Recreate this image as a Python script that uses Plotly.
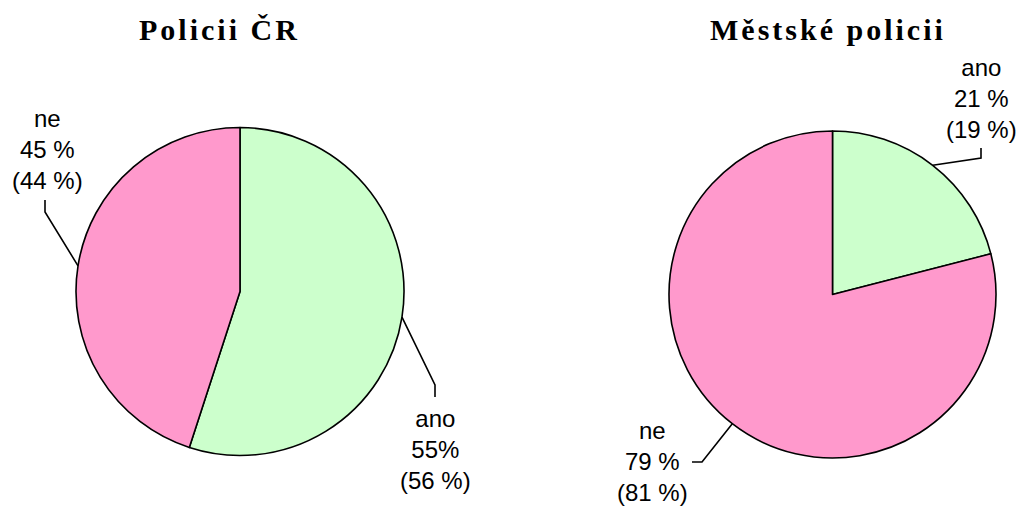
import math
import plotly.graph_objects as go

W, H = 1021, 506

# ---- data ----
categories = ["ano", "ne"]
titles = ["Policii ČR", "Městské policii"]
cr_values = [55, 45]
cr_prev = [56, 44]
mp_values = [21, 79]
mp_prev = [19, 81]
colors = ["#CCFFCC", "#FF99CC"]

# ---- layout (pixel positions) ----
pies = [
    dict(title=titles[0], values=cr_values, prev=cr_prev, cx=240, cy=291.5, r=164,
         tx=219, ty=29, seps=["", " "],
         # per slice: label centre, elbow, end of leader
         lab=[dict(lx=435, ly=449, ex=435, ey=385, fx=435, fy=397),
              dict(lx=47, ly=149, ex=45, ey=212, fx=45, fy=200)]),
    dict(title=titles[1], values=mp_values, prev=mp_prev, cx=832.5, cy=294.5, r=163.5,
         tx=828, ty=29, seps=[" ", " "],
         lab=[dict(lx=981, ly=98, ex=981, ey=158, fx=981, fy=148),
              dict(lx=652, ly=461, ex=702, ey=462, fx=692, fy=462)]),
]


def px(x):
    return x / W


def py(y):
    return 1 - y / H


fig = go.Figure()
annotations = []
shapes = []

for p in pies:
    fig.add_trace(go.Pie(
        labels=categories, values=p["values"], sort=False, direction="clockwise",
        rotation=0, textinfo="none", hoverinfo="label+percent",
        marker=dict(colors=colors, line=dict(color="black", width=1.6)),
        domain=dict(x=[px(p["cx"] - p["r"]), px(p["cx"] + p["r"])],
                    y=[py(p["cy"] + p["r"]), py(p["cy"] - p["r"])]),
        showlegend=False,
    ))
    annotations.append(dict(
        text="<b><span style='letter-spacing:3px'>" + p["title"] + "</span></b>",
        x=px(p["tx"]), y=py(p["ty"]), xref="paper", yref="paper",
        xanchor="center", yanchor="middle", showarrow=False,
        font=dict(family="Liberation Serif", size=30, color="black"),
    ))
    total = sum(p["values"])
    cum = 0
    for i, v in enumerate(p["values"]):
        mid = (cum + v / 2) / total * 2 * math.pi
        cum += v
        sx = p["cx"] + p["r"] * math.sin(mid)
        sy = p["cy"] - p["r"] * math.cos(mid)
        L = p["lab"][i]
        shapes.append(dict(
            type="path", xref="paper", yref="paper",
            path=f"M {px(sx)} {py(sy)} L {px(L['ex'])} {py(L['ey'])} L {px(L['fx'])} {py(L['fy'])}",
            line=dict(color="black", width=1.6),
        ))
        txt = f"{categories[i]}<br>{v}{p['seps'][i]}%<br>({p['prev'][i]} %)"
        annotations.append(dict(
            text=txt, x=px(L["lx"]), y=py(L["ly"]), xref="paper", yref="paper",
            xanchor="center", yanchor="middle", showarrow=False, borderpad=0,
            font=dict(family="Liberation Sans", size=24, color="black"),
        ))

fig.update_layout(
    width=W, height=H, margin=dict(l=0, r=0, t=0, b=0),
    paper_bgcolor="white", plot_bgcolor="white",
    annotations=annotations, shapes=shapes,
)

fig.write_html(
    "out.html",
    config={"displayModeBar": False},
    post_script="document.body.style.margin='0';document.body.style.overflow='hidden';",
)
